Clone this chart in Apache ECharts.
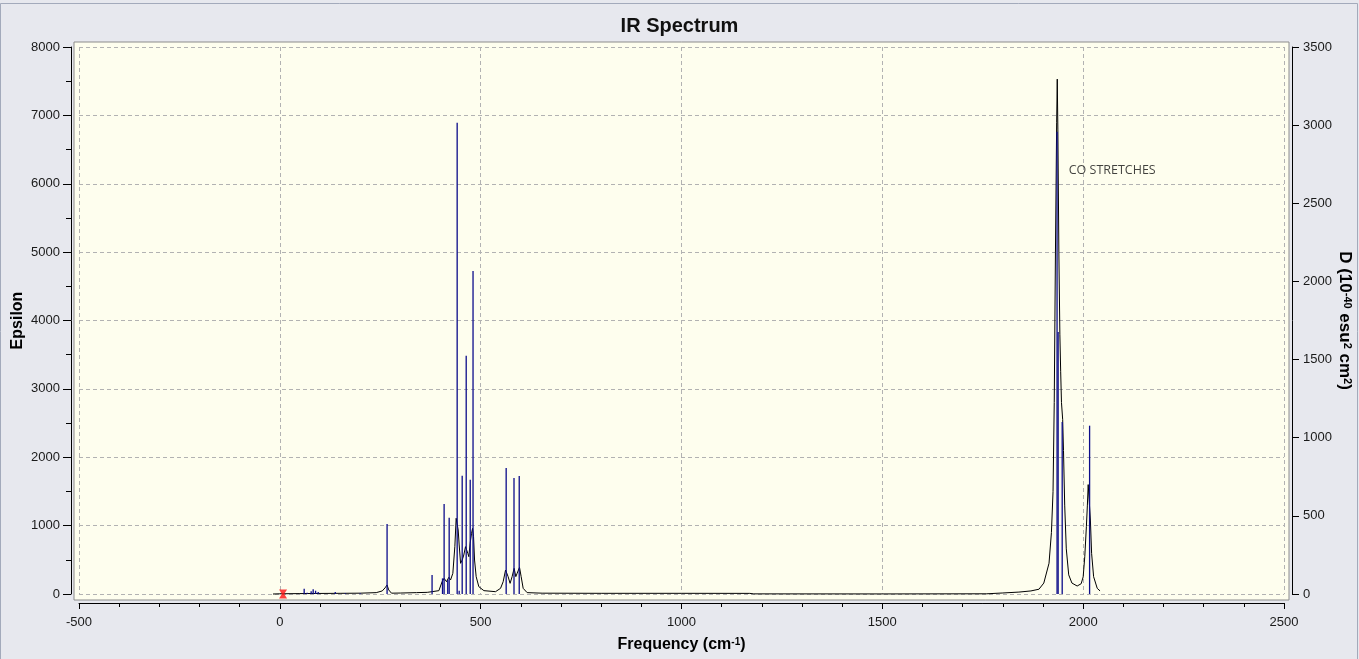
<!DOCTYPE html>
<html><head><meta charset="utf-8">
<script src="https://cdn.jsdelivr.net/npm/echarts@6/dist/echarts.min.js"></script>
<style>html,body{margin:0;padding:0;background:#e7e8ee;}#c{width:1359px;height:659px;}</style>
</head><body><div id="c"></div>
<script>
// ---- data ----
const xTicks = [-500, 0, 500, 1000, 1500, 2000, 2500];
const epsTicks = [0, 1000, 2000, 3000, 4000, 5000, 6000, 7000, 8000];
const dTicks = [0, 500, 1000, 1500, 2000, 2500, 3000, 3500];

// broadened spectrum (black line): frequency (cm-1) and epsilon
const curveFreq = [-17, 0, 50, 100, 150, 200, 240, 255, 262, 267, 271, 278, 300, 340, 367, 379, 396, 404, 409, 415, 420.7, 425, 430.7, 435.7, 439, 441.5, 444, 446.5, 450, 454, 458, 462.3, 464.7, 468, 470.5, 473.8, 477.3, 479.8, 482.3, 484.8, 488.8, 495.4, 508, 537, 549.5, 556, 562, 564, 568.3, 573.3, 578.3, 583.3, 587.5, 590.8, 596.7, 600.8, 605.8, 615.7, 653, 800, 1000, 1170, 1180, 1500, 1760, 1800, 1840, 1870, 1890, 1902, 1915, 1921, 1925, 1928, 1931, 1934, 1935.5, 1937, 1939.5, 1942, 1944, 1946, 1949, 1951, 1954, 1958, 1964, 1972, 1985, 1995, 2000, 2004, 2008, 2010.5, 2012.5, 2015, 2018, 2021, 2026, 2035, 2042];
const curveEps = [0, 3, 6, 8, 10, 12, 20, 45, 90, 132, 60, 12, 14, 20, 24, 34, 49, 180, 229, 180, 244, 205, 302, 692, 1107, 1131, 936, 717, 449, 497, 570, 692, 717, 595, 546, 741, 887, 960, 838, 497, 254, 107, 49, 34, 83, 180, 351, 351, 254, 156, 254, 375, 254, 302, 390, 254, 83, 20, 12, 10, 10, 9, 2, 1, 3, 15, 28, 45, 70, 160, 450, 900, 1500, 2800, 5000, 6900, 7530, 6800, 5000, 3800, 3250, 2800, 2550, 2100, 1300, 660, 280, 160, 117, 150, 250, 546, 985, 1300, 1600, 1628, 1082, 595, 253, 83, 45];

// stick spectrum (blue): frequency (cm-1) and dipole strength D
const stickFreq = [60.6, 68, 78, 83, 89, 95.5, 138, 163, 200, 267, 379, 405, 409, 418, 421.6, 441.5, 446.5, 454, 464, 474, 481, 563.5, 583, 596, 1935, 1937.7, 1947.8, 2016];
const stickD = [34, 8, 17, 30, 21, 13, 12, 5, 5, 448, 122, 100, 576, 90, 488, 3016, 20, 757, 1525, 731, 2067, 806, 742, 755, 2958, 1676, 1100, 1077];

// marker and annotation
const markerPoint = [[8, 0]];
const noteText = ['CO STRETCHES'];
const notePos = [[1964, 6200]];

const FONT = 'Liberation Sans';
const chart = echarts.init(document.getElementById('c'), null, {renderer: 'canvas'});
const plain = v => String(v);
const axisCommon = {
  axisLine: {show: true, onZero: false, lineStyle: {color: '#000', width: 1}},
  axisLabel: {color: '#1a1a1a', fontSize: 13, fontFamily: FONT, formatter: plain},
  nameMoveOverlap: false,
  nameTextStyle: {color: '#000', fontSize: 16, fontWeight: 'bold', fontFamily: FONT}
};
const dash = {color: '#b2b2b2', width: 1, type: [4, 3]};

chart.setOption({
  backgroundColor: '#e7e8ee',
  animation: false,
  title: {text: 'IR Spectrum', left: 'center', top: 11,
    textStyle: {fontSize: 20, fontWeight: 'bold', fontFamily: FONT, color: '#111'}},
  graphic: [{type: 'rect', silent: true, z: -10,
    shape: {x: 0.5, y: 3.5, width: 1357, height: 656},
    style: {fill: 'none', stroke: '#a3aabb', lineWidth: 1}}],
  grid: [
    {left: 79, top: 47, width: 1205, height: 547, show: false, outerBoundsMode: 'none', containLabel: false},
    {left: 74, top: 42, width: 1215, height: 558, show: true, z: -1, outerBoundsMode: 'none', containLabel: false,
      backgroundColor: '#fefeee', borderColor: '#8c8c8c', borderWidth: 1}
  ],
  xAxis: [
    Object.assign({}, axisCommon, {
      type: 'value', gridIndex: 0, position: 'bottom', offset: 9,
      min: xTicks[0], max: xTicks[xTicks.length - 1], interval: xTicks[1] - xTicks[0],
      axisTick: {show: true, inside: false, length: 6, lineStyle: {color: '#000'}},
      minorTick: {show: true, splitNumber: 5, length: 4, lineStyle: {color: '#000'}},
      axisLabel: Object.assign({}, axisCommon.axisLabel, {margin: 13}),
      splitLine: {show: true, lineStyle: dash},
      name: 'Frequency (cm{sup|-1})', nameLocation: 'middle', nameGap: 34,
      nameTextStyle: Object.assign({}, axisCommon.nameTextStyle, {
        rich: {sup: {fontSize: 10, fontWeight: 'bold', fontFamily: FONT, color: '#000', verticalAlign: 'top'}}})
    }),
    {type: 'value', gridIndex: 1, show: false, min: 0, max: 1}
  ],
  yAxis: [
    Object.assign({}, axisCommon, {
      type: 'value', gridIndex: 0, position: 'left', offset: 8,
      min: epsTicks[0], max: epsTicks[epsTicks.length - 1], interval: epsTicks[1] - epsTicks[0],
      axisTick: {show: true, inside: false, length: 8, lineStyle: {color: '#000'}},
      minorTick: {show: true, splitNumber: 2, length: 5, lineStyle: {color: '#000'}},
      axisLabel: Object.assign({}, axisCommon.axisLabel, {margin: 11}),
      splitLine: {show: true, lineStyle: dash},
      name: 'Epsilon', nameLocation: 'middle', nameGap: 45, nameRotate: 90,
      nameTextStyle: Object.assign({}, axisCommon.nameTextStyle, {fontSize: 16})
    }),
    Object.assign({}, axisCommon, {
      type: 'value', gridIndex: 0, position: 'right', offset: 8,
      min: dTicks[0], max: dTicks[dTicks.length - 1], interval: dTicks[1] - dTicks[0],
      axisTick: {show: true, inside: false, length: 7, lineStyle: {color: '#000'}},
      axisLabel: Object.assign({}, axisCommon.axisLabel, {margin: 11}),
      splitLine: {show: false},
      name: 'D (10{sup|-40}{n| esu}{sup|2}{n| cm}{sup|2}{n|)}', nameLocation: 'middle', nameGap: 44, nameRotate: -90,
      nameTextStyle: Object.assign({}, axisCommon.nameTextStyle, {
        fontSize: 17,
        rich: {
          n: {fontSize: 17, fontWeight: 'bold', fontFamily: FONT, color: '#000'},
          sup: {fontSize: 11, fontWeight: 'bold', fontFamily: FONT, color: '#000', verticalAlign: 'top'}
        }})
    }),
    {type: 'value', gridIndex: 1, show: false, min: 0, max: 1}
  ],
  series: [
    {
      type: 'line', name: 'Epsilon', xAxisIndex: 0, yAxisIndex: 0,
      data: curveFreq.map((f, i) => [f, curveEps[i]]),
      showSymbol: false, symbol: 'none', clip: false, z: 2,
      lineStyle: {color: '#000', width: 1}
    },
    {
      type: 'custom', name: 'D', xAxisIndex: 0, yAxisIndex: 1, clip: false, z: 3,
      data: stickFreq.map((f, i) => [f, stickD[i]]),
      renderItem: function (params, api) {
        const p0 = api.coord([api.value(0), 0]);
        const p1 = api.coord([api.value(0), api.value(1)]);
        return {type: 'line', shape: {x1: p0[0], y1: p0[1], x2: p1[0], y2: p1[1]},
          style: {stroke: '#0c0c8a', lineWidth: 1.3}};
      }
    },
    {
      type: 'scatter', xAxisIndex: 0, yAxisIndex: 0, clip: false, z: 4,
      data: markerPoint,
      symbol: 'path://M0,0 L10,0 L6.5,5 L10,10 L0,10 L3.5,5 Z', symbolSize: [8, 9],
      itemStyle: {color: '#ff1010'}
    },
    {
      type: 'scatter', xAxisIndex: 0, yAxisIndex: 0, clip: false, z: 4,
      data: notePos.map((p, i) => ({value: p, name: noteText[i]})),
      symbolSize: 0,
      label: {show: true, position: 'right', distance: 0, formatter: '{b}',
        fontFamily: 'Open Sans', fontSize: 12.5, color: '#111'}
    }
  ]
});
</script></body></html>
